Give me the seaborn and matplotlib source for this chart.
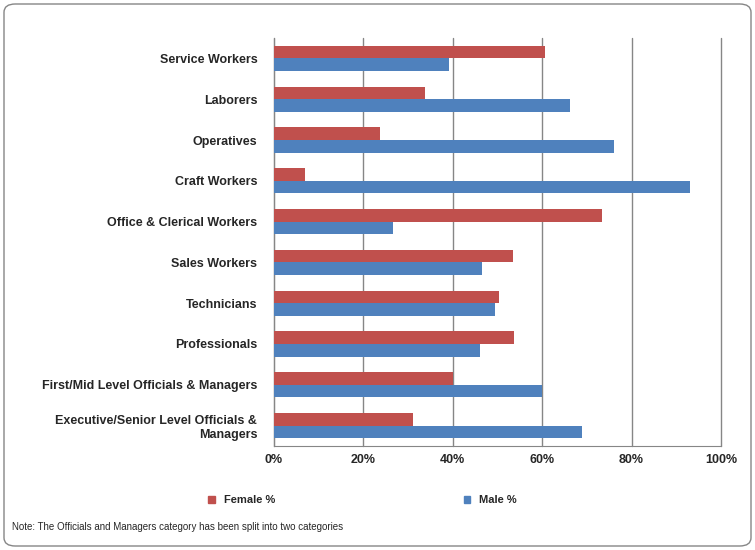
import matplotlib
matplotlib.use("Agg")
import matplotlib.pyplot as plt
from matplotlib.patches import FancyBboxPatch
import seaborn as sns
import pandas as pd

categories = [
    "Service Workers", "Laborers", "Operatives", "Craft Workers",
    "Office & Clerical Workers", "Sales Workers", "Technicians", "Professionals",
    "First/Mid Level Officials & Managers",
    "Executive/Senior Level Officials &\nManagers",
]
female_pct = [60.7, 33.8, 23.8, 6.9, 73.3, 53.4, 50.4, 53.7, 40.0, 31.0]
male_pct = [39.2, 66.2, 76.0, 93.1, 26.6, 46.5, 49.5, 46.1, 59.9, 69.0]
series = ["Female %", "Male %"]
colors = ["#C0504D", "#4F81BD"]

df = pd.DataFrame({"cat": categories * 2,
                   "series": [series[0]] * len(categories) + [series[1]] * len(categories),
                   "value": female_pct + male_pct})

sns.set_style("white")
plt.rcParams["font.family"] = ["Liberation Sans", "DejaVu Sans"]

fig = plt.figure(figsize=(7.55, 5.5), dpi=100)
ax = fig.add_axes([274 / 755, 1 - 446 / 550, (721 - 274) / 755, (446 - 38) / 550])

sns.barplot(data=df, y="cat", x="value", hue="series", palette=colors,
            orient="h", width=0.62, saturation=1, ax=ax, zorder=3,
            edgecolor="none", linewidth=0)

ax.set_xlim(0, 100)
ax.set_xticks(range(0, 101, 20))
ax.set_xticklabels([f"{t}%" for t in range(0, 101, 20)], fontsize=9, fontweight="bold")
ax.set_yticklabels(categories, fontsize=9, fontweight="bold")
ax.set_xlabel("")
ax.set_ylabel("")
ax.xaxis.grid(True, color="#868686", linewidth=1, zorder=0)
for gl in ax.get_xgridlines():
    gl.set_clip_on(False)
for s in ["top", "right"]:
    ax.spines[s].set_visible(False)
ax.spines["left"].set_color("#868686")
ax.spines["bottom"].set_color("#868686")
ax.tick_params(axis="y", length=0, pad=12)
ax.tick_params(axis="x", length=0, pad=6)
ax.legend_.remove()

handles = [plt.Rectangle((0, 0), 1, 1, color=c) for c in colors]
fig.legend(handles, series, loc="center", bbox_to_anchor=(0.48, 1 - 500 / 550),
           ncol=2, frameon=False, columnspacing=17, handlelength=0.6,
           handleheight=0.6, prop={"size": 8, "weight": "bold"})

fig.text(12 / 755, 1 - 530 / 550,
         "Note: The Officials and Managers category has been split into two categories",
         fontsize=7)

frame = FancyBboxPatch((4 / 755, 4 / 550), 747 / 755, 542 / 550,
                       boxstyle="round,pad=0,rounding_size=0.015",
                       transform=fig.transFigure, fill=False,
                       edgecolor="#868686", linewidth=1)
fig.patches.append(frame)

fig.savefig("out.png", dpi=100)
